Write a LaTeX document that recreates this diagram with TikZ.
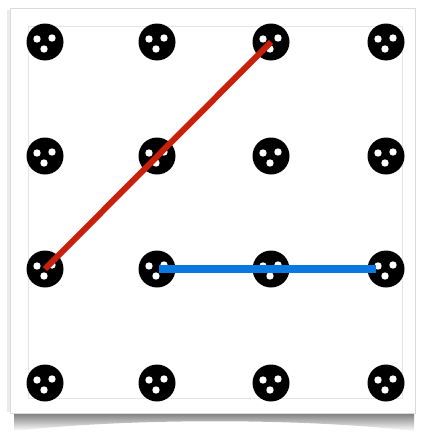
\documentclass[tikz,border=0pt]{standalone}
\usetikzlibrary{shadings}
\definecolor{redline}{RGB}{200,32,10}
\definecolor{blueline}{RGB}{10,120,225}
\tikzset{
  peg/.style={circle,fill=black,minimum size=37pt,inner sep=0pt},
  band/.style={line width=#1}
}
\begin{document}
\begin{tikzpicture}[x=1pt,y=-1pt]
\useasboundingbox (0,0) rectangle (421,434);
% shadow
\shade[top color=black!60,bottom color=white] (14,410) -- (414,410) -- (414,431) .. controls (300,418) and (130,418) .. (14,431) -- cycle;
\fill[black!8] (7,10) rectangle (12,412);
% card
\draw[black!14,fill=white] (10,8) rectangle (415,413);
\draw[black!10,line width=0.8pt] (28,26) rectangle (402,398);
% pegs
\foreach \i/\x in {0/45,1/157,2/271,3/386}{
  \foreach \j/\y in {0/42,1/156,2/269,3/383}{
    \node[peg] (p\i\j) at (\x,\y) {};
    \fill[white] (\x-8,\y-3) circle (3.7);
    \fill[white] (\x+7,\y-4) circle (3.7);
    \fill[white] (\x-1,\y+7) circle (3.7);
  }
}
% bands
\draw[redline,band=6pt] (p02.center) -- (p20.center);
\draw[blueline,band=8pt,shorten >=10pt] ([xshift=2pt]p12.center) -- (p32.center);
\end{tikzpicture}
\end{document}
